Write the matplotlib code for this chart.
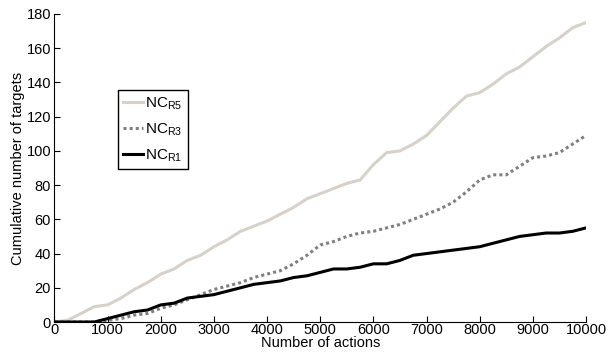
import matplotlib
matplotlib.use('Agg')
import matplotlib.pyplot as plt
import numpy as np

plt.rcParams['font.family'] = ['Liberation Sans', 'DejaVu Sans']
plt.rcParams['mathtext.fontset'] = 'custom'
plt.rcParams['mathtext.rm'] = 'Liberation Sans'

# actions sampled every 250
actions = list(range(0, 10001, 250))
nc_r5 = [0, 1, 5, 9, 10, 14, 19, 23, 28, 31, 36, 39, 44, 48, 53, 56, 59, 63, 67, 72,
         75, 78, 81, 83, 92, 99, 100, 104, 109, 117, 125, 132, 134, 139, 145, 149,
         155, 161, 166, 172, 175]
nc_r3 = [0, 0, 0, 0, 1, 2, 4, 5, 8, 10, 13, 16, 19, 21, 23, 26, 28, 30, 34, 39,
         45, 47, 50, 52, 53, 55, 57, 60, 63, 66, 70, 76, 83, 86, 86, 91, 96, 97,
         99, 104, 109]
nc_r1 = [0, 0, 0, 0, 2, 4, 6, 7, 10, 11, 14, 15, 16, 18, 20, 22, 23, 24, 26, 27,
         29, 31, 31, 32, 34, 34, 36, 39, 40, 41, 42, 43, 44, 46, 48, 50, 51, 52,
         52, 53, 55]

fig = plt.figure(figsize=(6.08, 3.56), dpi=100)
ax = fig.add_axes([0.0896, 0.0955, 0.8742, 0.8652])

ax.plot(actions, nc_r5, color='#d6d2ca', lw=2.2, label=r'NC$_\mathrm{R5}$')
ax.plot(actions, nc_r3, color='#808080', lw=2.2, ls=(0, (1, 1)), label=r'NC$_\mathrm{R3}$')
ax.plot(actions, nc_r1, color='black', lw=2.2, label=r'NC$_\mathrm{R1}$')

ax.set_xlim(0, 10000)
ax.set_ylim(0, 180)
ax.set_xticks(np.arange(0, 10001, 1000))
ax.set_yticks(np.arange(0, 181, 20))
ax.tick_params(direction='in', labelsize=10.5, length=4)
ax.tick_params(axis='x', pad=1)
ax.tick_params(axis='y', pad=2.5)
ax.spines['top'].set_visible(False)
ax.spines['right'].set_visible(False)
ax.set_xlabel('Number of actions', fontsize=10.5, labelpad=-1)
ax.set_ylabel('Cumulative number of targets', fontsize=10.5, labelpad=1)

leg = ax.legend(loc='upper left', bbox_to_anchor=(0.119, 0.753), borderaxespad=0,
                fontsize=11, fancybox=False, handlelength=1.3, handletextpad=0.15,
                borderpad=0.35, labelspacing=0.6, framealpha=1)
leg.get_frame().set_edgecolor('black')
leg.get_frame().set_linewidth(1)

plt.savefig('out.png', dpi=100)
